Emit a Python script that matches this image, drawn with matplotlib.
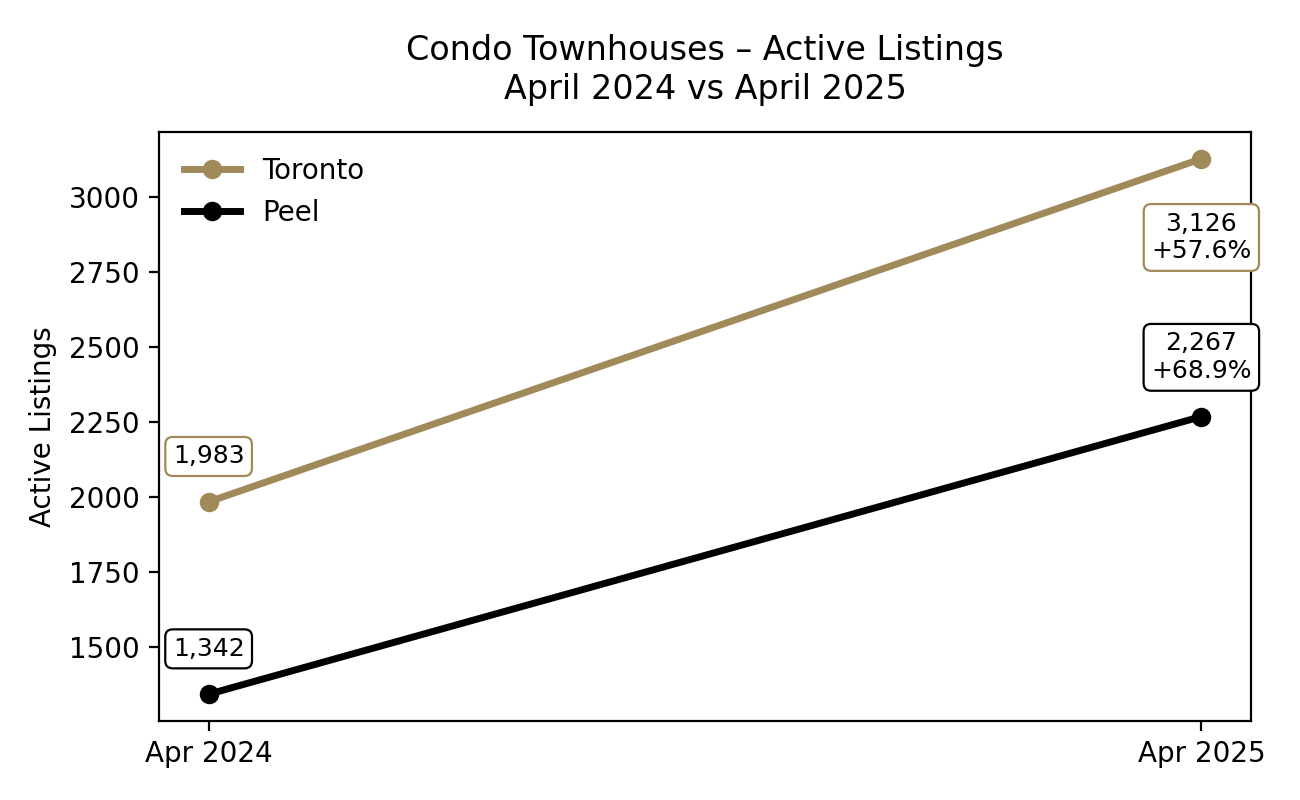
import matplotlib
matplotlib.use("Agg")
import matplotlib.pyplot as plt

periods = ["Apr 2024", "Apr 2025"]
toronto = [1983, 3126]
peel = [1342, 2267]
toronto_chg = "+57.6%"
peel_chg = "+68.9%"

gold = "#A08A5A"

fig, ax = plt.subplots(figsize=(6.5, 4), dpi=200)
x = range(len(periods))

ax.plot(x, toronto, "-o", color=gold, linewidth=2.5, markersize=6, label="Toronto")
ax.plot(x, peel, "-o", color="black", linewidth=2.5, markersize=6, label="Peel")

def box(c):
    return dict(boxstyle="round,pad=0.3", facecolor="white", edgecolor=c, linewidth=0.8)

# start labels above the points
ax.annotate(f"{toronto[0]:,}", (0, toronto[0]), xytext=(0, 12), textcoords="offset points",
            ha="center", va="bottom", fontsize=9, bbox=box(gold))
ax.annotate(f"{peel[0]:,}", (0, peel[0]), xytext=(0, 12), textcoords="offset points",
            ha="center", va="bottom", fontsize=9, bbox=box("black"))
# end labels with change
ax.annotate(f"{toronto[1]:,}\n{toronto_chg}", (1, toronto[1]), xytext=(0, -19), textcoords="offset points",
            ha="center", va="top", fontsize=9, bbox=box(gold))
ax.annotate(f"{peel[1]:,}\n{peel_chg}", (1, peel[1]), xytext=(0, 12), textcoords="offset points",
            ha="center", va="bottom", fontsize=9, bbox=box("black"))

ax.set_xticks(list(x))
ax.set_xticklabels(periods)
ax.set_ylabel("Active Listings")
ax.set_title("Condo Townhouses \u2013 Active Listings\nApril 2024 vs April 2025", fontsize=12, pad=12)
ax.legend(loc="upper left", frameon=False)

plt.subplots_adjust(left=0.1223, right=0.9623, top=0.835, bottom=0.0988)
plt.savefig("out.png", dpi=200)
